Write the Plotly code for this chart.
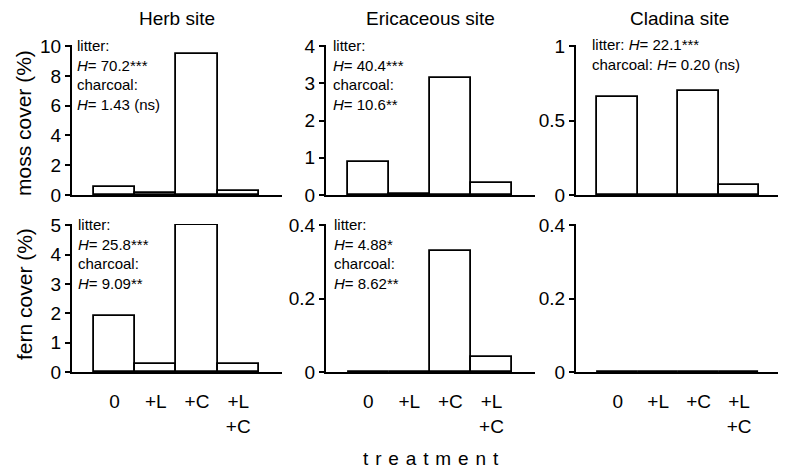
import plotly.graph_objects as go

W, H = 786, 470
OFF = 8  # page body margin the figure is drawn at

# ---------------- data ----------------
categories = ["0", "+L", "+C", "+L<br>+C"]
sites = ["Herb site", "Ericaceous site", "Cladina site"]

moss_herb = [0.51, 0.12, 9.45, 0.25]
moss_eric = [0.90, 0.04, 3.15, 0.31]
moss_clad = [0.66, 0.0, 0.70, 0.07]
fern_herb = [1.92, 0.27, 5.0, 0.27]
fern_eric = [0.0, 0.0, 0.33, 0.041]
fern_clad = [0.0, 0.0, 0.0, 0.0]

moss_ticks_herb = [0, 2, 4, 6, 8, 10]
moss_ticks_eric = [0, 1, 2, 3, 4]
moss_ticks_clad = [0, 0.5, 1]
fern_ticks_herb = [0, 1, 2, 3, 4, 5]
fern_ticks_eric = [0, 0.2, 0.4]
fern_ticks_clad = [0, 0.2, 0.4]

moss_stats = [
    "litter:<br><i>H</i>= 70.2***<br>charcoal:<br><i>H</i>= 1.43 (ns)",
    "litter:<br><i>H</i>= 40.4***<br>charcoal:<br><i>H</i>= 10.6**",
    "litter: <i>H</i>= 22.1***<br>charcoal: <i>H</i>= 0.20 (ns)",
]
fern_stats = [
    "litter:<br><i>H</i>= 25.8***<br>charcoal:<br><i>H</i>= 9.09**",
    "litter:<br><i>H</i>= 4.88*<br>charcoal:<br><i>H</i>= 8.62**",
    "",
]

y_titles = ["moss cover (%)", "fern cover (%)"]
x_title = "treatment"

# ---------------- layout helpers ----------------
FONT = "Liberation Sans, Arial, sans-serif"


def px(x):
    return (x - OFF) / W


def py(y):
    return 1 - (y - OFF) / H


col_px = [(72, 282), (326, 535), (576, 782)]
row_px = [(45, 195), (224, 372)]  # (top, bottom) screen pixel

rows = [
    [moss_herb, moss_eric, moss_clad],
    [fern_herb, fern_eric, fern_clad],
]
ticks = [
    [moss_ticks_herb, moss_ticks_eric, moss_ticks_clad],
    [fern_ticks_herb, fern_ticks_eric, fern_ticks_clad],
]

fig = go.Figure()
layout = {}
xpos = list(range(len(categories)))

for r in range(2):
    for c in range(3):
        k = r * 3 + c + 1
        xa = "x" if k == 1 else f"x{k}"
        ya = "y" if k == 1 else f"y{k}"
        fig.add_trace(go.Bar(
            x=xpos, y=rows[r][c], xaxis=xa, yaxis=ya, width=1,
            marker=dict(color="white", line=dict(color="black", width=1.8)),
            showlegend=False, hoverinfo="skip",
        ))
        tv = ticks[r][c]
        tt = [("%g" % v) for v in tv]
        top = max(tv)
        layout[f"xaxis{'' if k == 1 else k}"] = dict(
            domain=[px(col_px[c][0]), px(col_px[c][1])],
            anchor=ya, range=[-1.03, 4.06],
            tickvals=xpos, ticktext=categories,
            showticklabels=(r == 1), ticks="",
            ticklabelstandoff=11, automargin=False,
            tickfont=dict(size=19, color="black", family=FONT),
            showline=True, linecolor="black", linewidth=2,
            showgrid=False, zeroline=False, fixedrange=True,
        )
        layout[f"yaxis{'' if k == 1 else k}"] = dict(
            domain=[py(row_px[r][1]), py(row_px[r][0])],
            anchor=xa, range=[0, top * 1.008],
            tickvals=tv, ticktext=tt, automargin=False,
            ticks="outside", ticklen=5, tickwidth=2, tickcolor="black",
            tickfont=dict(size=19, color="black", family=FONT),
            showline=True, linecolor="black", linewidth=2,
            showgrid=False, zeroline=False, fixedrange=True,
        )

annotations = []
# column titles
for c, name in enumerate(sites):
    annotations.append(dict(
        text=name, xref="paper", yref="paper",
        x=px((col_px[c][0] + col_px[c][1]) / 2), y=py(18),
        xanchor="center", yanchor="middle", showarrow=False,
        font=dict(size=19, color="black", family=FONT)))

# stats text
stat_pos_moss = [(75, 35), (331, 35), (590, 34)]
stat_pos_fern = [(76, 214), (332, 214), (590, 214)]
for c in range(3):
    for txt, (x0, y0) in ((moss_stats[c], stat_pos_moss[c]), (fern_stats[c], stat_pos_fern[c])):
        if not txt:
            continue
        annotations.append(dict(
            text=txt, xref="paper", yref="paper", x=px(x0), y=py(y0),
            xanchor="left", yanchor="top", align="left", showarrow=False,
            font=dict(size=15, color="black", family=FONT)))

# y titles
for r, (t, yc) in enumerate(zip(y_titles, [123, 294])):
    annotations.append(dict(
        text=t, xref="paper", yref="paper", x=px(24), y=py(yc),
        xanchor="center", yanchor="middle", textangle=-90, showarrow=False,
        font=dict(size=21, color="black", family=FONT)))

# x title (letter-spaced)
annotations.append(dict(
    text="\u200a ".join(list(x_title)),
    xref="paper", yref="paper", x=px(431), y=py(458),
    xanchor="center", yanchor="middle", showarrow=False,
    font=dict(size=19, color="black", family=FONT)))

fig.update_layout(
    width=W, height=H,
    margin=dict(l=0, r=0, t=0, b=0, pad=0, autoexpand=False),
    paper_bgcolor="white", plot_bgcolor="white",
    bargap=0, annotations=annotations,
    font=dict(family=FONT, color="black"),
    **layout,
)

fig.write_html("out.html")
